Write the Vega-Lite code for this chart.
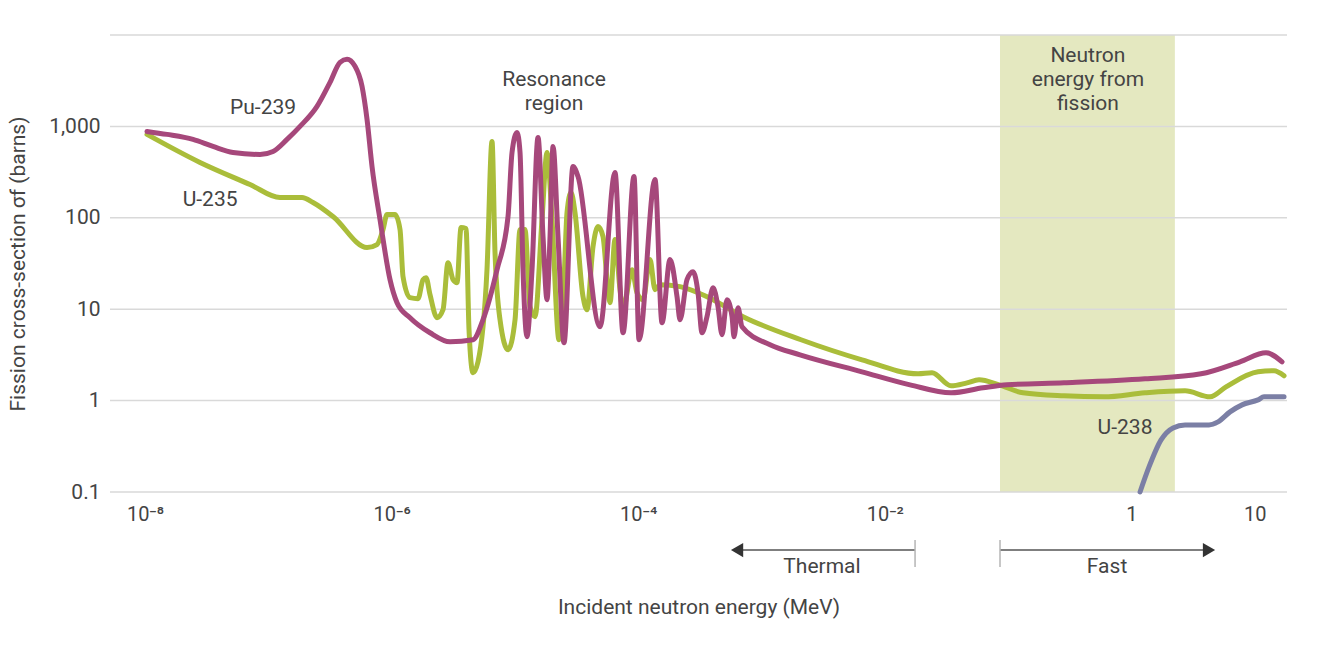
{
  "$schema": "https://vega.github.io/schema/vega-lite/v6.json",
  "width": 1177,
  "height": 457,
  "autosize": "none",
  "padding": {"left": 110, "top": 35, "right": 47, "bottom": 156},
  "background": "white",
  "config": {
    "view": {"stroke": null},
    "font": "Roboto",
    "text": {"font": "Roboto", "color": "#444", "fontSize": 21}
  },
  "datasets": {
    "band": [{"E": 0.0859, "E2": 2.25, "sigma": 10000, "sigma2": 0.1}],
    "grid": [
      {"E": 5.2e-9, "E2": 18.26, "sigma": 0.1}, {"E": 5.2e-9, "E2": 18.26, "sigma": 1},
      {"E": 5.2e-9, "E2": 18.26, "sigma": 10}, {"E": 5.2e-9, "E2": 18.26, "sigma": 100},
      {"E": 5.2e-9, "E2": 18.26, "sigma": 1000}, {"E": 5.2e-9, "E2": 18.26, "sigma": 10000}
    ],
    "pu239": [
      {"E": 1.038e-8, "sigma": 881.6}, {"E": 1.508e-8, "sigma": 817.4}, {"E": 2.451e-8, "sigma": 720.3},
      {"E": 3.561e-8, "sigma": 603.6}, {"E": 5.172e-8, "sigma": 518.9}, {"E": 8.563e-8, "sigma": 493.3},
      {"E": 1.092e-7, "sigma": 532.1}, {"E": 1.418e-7, "sigma": 720.3}, {"E": 1.808e-7, "sigma": 1000},
      {"E": 2.483e-7, "sigma": 1657}, {"E": 3.165e-7, "sigma": 3035}, {"E": 3.815e-7, "sigma": 5028},
      {"E": 4.347e-7, "sigma": 5424}, {"E": 5.048e-7, "sigma": 4545}, {"E": 5.753e-7, "sigma": 2744},
      {"E": 6.317e-7, "sigma": 1193}, {"E": 6.934e-7, "sigma": 364.4}, {"E": 8.051e-7, "sigma": 95.7},
      {"E": 9.705e-7, "sigma": 21.05}, {"E": 1.106e-6, "sigma": 11.78}, {"E": 1.41e-6, "sigma": 8.07},
      {"E": 2.048e-6, "sigma": 5.526}, {"E": 2.976e-6, "sigma": 4.404}, {"E": 4.572e-6, "sigma": 4.632},
      {"E": 5.51e-6, "sigma": 7.672}, {"E": 7.156e-6, "sigma": 27.1}, {"E": 8.79e-6, "sigma": 103.2},
      {"E": 9.471e-6, "sigma": 518.9}, {"E": 1.04e-5, "sigma": 859.6}, {"E": 1.1e-5, "sigma": 518.9},
      {"E": 1.163e-5, "sigma": 27.1}, {"E": 1.253e-5, "sigma": 4.995}, {"E": 1.376e-5, "sigma": 27.1},
      {"E": 1.539e-5, "sigma": 757.6}, {"E": 1.69e-5, "sigma": 62.31}, {"E": 1.821e-5, "sigma": 12.71},
      {"E": 1.926e-5, "sigma": 62.31}, {"E": 2.037e-5, "sigma": 603.6}, {"E": 2.236e-5, "sigma": 62.31},
      {"E": 2.501e-5, "sigma": 4.295}, {"E": 2.958e-5, "sigma": 364.4}, {"E": 3.248e-5, "sigma": 283.1},
      {"E": 4.899e-5, "sigma": 6.43}, {"E": 6.48e-5, "sigma": 313.3}, {"E": 7.527e-5, "sigma": 5.526},
      {"E": 9.243e-5, "sigma": 283.1}, {"E": 1.015e-4, "sigma": 4.632}, {"E": 1.368e-4, "sigma": 262.5},
      {"E": 1.559e-4, "sigma": 7.112}, {"E": 1.811e-4, "sigma": 34.87}, {"E": 2.063e-4, "sigma": 13.71},
      {"E": 2.182e-4, "sigma": 7.672}, {"E": 2.486e-4, "sigma": 21.05}, {"E": 2.782e-4, "sigma": 25.76},
      {"E": 3.053e-4, "sigma": 15.16}, {"E": 3.29e-4, "sigma": 5.526}, {"E": 3.612e-4, "sigma": 8.278},
      {"E": 4.041e-4, "sigma": 17.2}, {"E": 4.436e-4, "sigma": 10.65}, {"E": 4.781e-4, "sigma": 5.254},
      {"E": 5.248e-4, "sigma": 12.71}, {"E": 5.763e-4, "sigma": 8.278}, {"E": 5.982e-4, "sigma": 4.995},
      {"E": 6.447e-4, "sigma": 10.38}, {"E": 6.947e-4, "sigma": 6.43}, {"E": 1.172e-3, "sigma": 4.082},
      {"E": 2.051e-3, "sigma": 3.172}, {"E": 6.53e-3, "sigma": 2.065}, {"E": 0.016, "sigma": 1.488},
      {"E": 0.03441, "sigma": 1.216}, {"E": 0.06255, "sigma": 1.379}, {"E": 0.09791, "sigma": 1.488},
      {"E": 0.2838, "sigma": 1.565}, {"E": 1.288, "sigma": 1.731}, {"E": 3.666, "sigma": 1.964},
      {"E": 7.595, "sigma": 2.658}, {"E": 12.34, "sigma": 3.337}, {"E": 16.64, "sigma": 2.658}
    ],
    "u235": [
      {"E": 1.038e-8, "sigma": 817.4}, {"E": 2.793e-8, "sigma": 403.2}, {"E": 7.105e-8, "sigma": 231.4},
      {"E": 1.244e-7, "sigma": 166.7}, {"E": 1.876e-7, "sigma": 166.7}, {"E": 2.304e-7, "sigma": 146.9},
      {"E": 3.347e-7, "sigma": 103.2}, {"E": 6.317e-7, "sigma": 47.21}, {"E": 7.612e-7, "sigma": 50.91},
      {"E": 8.516e-7, "sigma": 74.33}, {"E": 9.176e-7, "sigma": 108.5}, {"E": 1.065e-6, "sigma": 108.5},
      {"E": 1.17e-6, "sigma": 74.33}, {"E": 1.237e-6, "sigma": 22.71}, {"E": 1.41e-6, "sigma": 13.37},
      {"E": 1.637e-6, "sigma": 13.04}, {"E": 1.797e-6, "sigma": 21.05}, {"E": 1.901e-6, "sigma": 22.14},
      {"E": 2.048e-6, "sigma": 14.42}, {"E": 2.334e-6, "sigma": 8.07}, {"E": 2.611e-6, "sigma": 9.874},
      {"E": 2.867e-6, "sigma": 32.32}, {"E": 3.148e-6, "sigma": 21.05}, {"E": 3.391e-6, "sigma": 19.51},
      {"E": 3.655e-6, "sigma": 78.17}, {"E": 4.012e-6, "sigma": 76.23}, {"E": 4.242e-6, "sigma": 5.961},
      {"E": 4.572e-6, "sigma": 2.014}, {"E": 5.018e-6, "sigma": 2.658}, {"E": 5.935e-6, "sigma": 27.1},
      {"E": 6.519e-6, "sigma": 684.6}, {"E": 6.894e-6, "sigma": 41.61}, {"E": 7.57e-6, "sigma": 7.672},
      {"E": 8.79e-6, "sigma": 3.599}, {"E": 1.002e-5, "sigma": 7.672}, {"E": 1.1e-5, "sigma": 74.33},
      {"E": 1.207e-5, "sigma": 74.33}, {"E": 1.325e-5, "sigma": 10.65}, {"E": 1.455e-5, "sigma": 8.278},
      {"E": 1.658e-5, "sigma": 95.7}, {"E": 1.821e-5, "sigma": 518.9}, {"E": 1.999e-5, "sigma": 95.7},
      {"E": 2.278e-5, "sigma": 4.632}, {"E": 2.501e-5, "sigma": 21.05}, {"E": 2.645e-5, "sigma": 114.1},
      {"E": 2.85e-5, "sigma": 189.1}, {"E": 3.071e-5, "sigma": 114.1}, {"E": 3.566e-5, "sigma": 13.71},
      {"E": 3.842e-5, "sigma": 9.874}, {"E": 4.298e-5, "sigma": 48.41}, {"E": 4.719e-5, "sigma": 80.19},
      {"E": 5.181e-5, "sigma": 62.31}, {"E": 5.583e-5, "sigma": 21.05}, {"E": 5.904e-5, "sigma": 11.78},
      {"E": 6.48e-5, "sigma": 57.75}, {"E": 7.118e-5, "sigma": 16.36}, {"E": 7.527e-5, "sigma": 9.874},
      {"E": 8.904e-5, "sigma": 27.1}, {"E": 9.775e-5, "sigma": 15.16}, {"E": 1.093e-4, "sigma": 12.71},
      {"E": 1.246e-4, "sigma": 34.87}, {"E": 1.368e-4, "sigma": 16.36}, {"E": 1.502e-4, "sigma": 18.56},
      {"E": 2.182e-4, "sigma": 17.64}, {"E": 3.612e-4, "sigma": 13.71}, {"E": 7.077e-4, "sigma": 8.278},
      {"E": 2.09e-3, "sigma": 4.632}, {"E": 6.53e-3, "sigma": 2.796}, {"E": 0.01858, "sigma": 1.964},
      {"E": 0.02413, "sigma": 2.014}, {"E": 0.03441, "sigma": 1.451}, {"E": 0.04638, "sigma": 1.565},
      {"E": 0.05803, "sigma": 1.688}, {"E": 0.08433, "sigma": 1.488}, {"E": 0.132, "sigma": 1.216},
      {"E": 0.2838, "sigma": 1.127}, {"E": 0.5991, "sigma": 1.099}, {"E": 1.288, "sigma": 1.216},
      {"E": 2.719, "sigma": 1.279}, {"E": 4.337, "sigma": 1.099}, {"E": 5.848, "sigma": 1.415},
      {"E": 10.63, "sigma": 2.065}, {"E": 14.33, "sigma": 2.118}, {"E": 17.28, "sigma": 1.867}
    ],
    "u238": [
      {"E": 1.174, "sigma": 0.1}, {"E": 1.388, "sigma": 0.1879}, {"E": 1.738, "sigma": 0.3714},
      {"E": 2.174, "sigma": 0.5027}, {"E": 2.719, "sigma": 0.5422}, {"E": 4.256, "sigma": 0.5422},
      {"E": 5.035, "sigma": 0.585}, {"E": 6.301, "sigma": 0.7528}, {"E": 7.885, "sigma": 0.8982},
      {"E": 10.63, "sigma": 1.019}, {"E": 11.89, "sigma": 1.099}, {"E": 17.28, "sigma": 1.099}
    ],
    "labels": [
      {"E": 9.06e-8, "sigma": 1574, "label": "Pu-239"},
      {"E": 3.37e-8, "sigma": 158.5, "label": "U-235"},
      {"E": 0.887, "sigma": 0.5027, "label": "U-238"},
      {"E": 2.075e-5, "sigma": 3192, "label": "Resonance\nregion"},
      {"E": 0.4436, "sigma": 5848, "label": "Neutron\nenergy from\nfission"}
    ],
    "arrows": [
      {"E": 6.33e-4, "E2": 0.01758, "sigma": 0.02313},
      {"E": 0.0859, "E2": 4.256, "sigma": 0.02313}
    ],
    "bars": [
      {"E": 0.01758, "sigma": 0.02978, "sigma2": 0.01507},
      {"E": 0.0859, "sigma": 0.02978, "sigma2": 0.01507}
    ],
    "heads": [
      {"E": 6.33e-4, "sigma": 0.02313, "dir": "triangle-left"},
      {"E": 4.256, "sigma": 0.02313, "dir": "triangle-right"}
    ],
    "ranges": [
      {"E": 3.09e-3, "sigma": 0.01507, "label": "Thermal"},
      {"E": 0.634, "sigma": 0.01507, "label": "Fast"}
    ]
  },
  "encoding": {
    "x": {
      "field": "E",
      "type": "quantitative",
      "scale": {"type": "log", "domain": [5.2e-9, 18.26], "nice": false},
      "axis": {
        "values": [1e-8, 1e-6, 1e-4, 1e-2, 1, 10],
        "labelExpr": "round(log(datum.value)/LN10) == -8 ? '10⁻⁸' : round(log(datum.value)/LN10) == -6 ? '10⁻⁶' : round(log(datum.value)/LN10) == -4 ? '10⁻⁴' : round(log(datum.value)/LN10) == -2 ? '10⁻²' : round(log(datum.value)/LN10) == 0 ? '1' : '10'",
        "title": "Incident neutron energy (MeV)",
        "domain": false,
        "ticks": false,
        "grid": false,
        "labelFont": "Roboto",
        "labelFontSize": 20,
        "labelColor": "#444",
        "labelPadding": 12,
        "titleFont": "Roboto",
        "titleFontSize": 21,
        "titleFontWeight": "normal",
        "titleColor": "#444",
        "titlePadding": 72
      }
    },
    "y": {
      "field": "sigma",
      "type": "quantitative",
      "scale": {"type": "log", "domain": [0.1, 10000], "nice": false},
      "axis": {
        "values": [0.1, 1, 10, 100, 1000],
        "labelExpr": "datum.value < 1 ? '0.1' : format(datum.value, ',')",
        "title": "Fission cross-section σf (barns)",
        "domain": false,
        "ticks": false,
        "grid": false,
        "labelFont": "Roboto",
        "labelFontSize": 21,
        "labelColor": "#444",
        "labelPadding": 10,
        "titleFont": "Roboto",
        "titleFontSize": 21,
        "titleFontWeight": "normal",
        "titleColor": "#444",
        "titlePadding": 20
      }
    }
  },
  "layer": [
    {
      "data": {"name": "band"},
      "mark": {"type": "rect", "color": "#e4e8c0"},
      "encoding": {
        "x2": {"field": "E2"},
        "y2": {"field": "sigma2"}
      }
    },
    {
      "data": {"name": "grid"},
      "mark": {"type": "rule", "color": "#d9d9d9", "strokeWidth": 1.5},
      "encoding": {"x2": {"field": "E2"}}
    },
    {
      "data": {"name": "u235"},
      "mark": {"type": "line", "color": "#aabd3a", "strokeWidth": 5, "interpolate": "monotone", "strokeCap": "round", "strokeJoin": "round"}
    },
    {
      "data": {"name": "pu239"},
      "mark": {"type": "line", "color": "#a6487b", "strokeWidth": 5, "interpolate": "monotone", "strokeCap": "round", "strokeJoin": "round"}
    },
    {
      "data": {"name": "u238"},
      "mark": {"type": "line", "color": "#7b7fa5", "strokeWidth": 5, "interpolate": "monotone", "strokeCap": "round", "strokeJoin": "round"}
    },
    {
      "data": {"name": "labels"},
      "mark": {"type": "text", "align": "center", "baseline": "middle", "lineBreak": "\n", "lineHeight": 24},
      "encoding": {"text": {"field": "label"}}
    },
    {
      "data": {"name": "arrows"},
      "mark": {"type": "rule", "color": "#555", "strokeWidth": 1.5},
      "encoding": {"x2": {"field": "E2"}}
    },
    {
      "data": {"name": "bars"},
      "mark": {"type": "rule", "color": "#b5b5b5", "strokeWidth": 1.5},
      "encoding": {"y2": {"field": "sigma2"}}
    },
    {
      "data": {"name": "heads"},
      "mark": {"type": "point", "filled": true, "color": "#333", "opacity": 1, "size": 200},
      "encoding": {"shape": {"field": "dir", "type": "nominal", "scale": null}}
    },
    {
      "data": {"name": "ranges"},
      "mark": {"type": "text", "align": "center", "baseline": "middle"},
      "encoding": {"text": {"field": "label"}}
    }
  ]
}
